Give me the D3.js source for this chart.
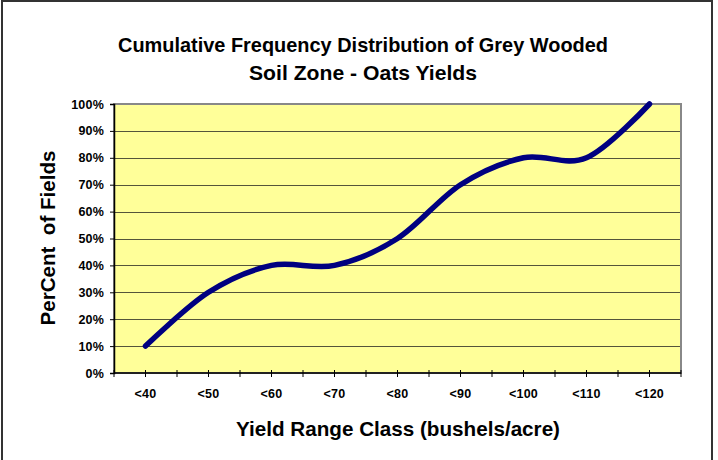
<!DOCTYPE html>
<html>
<head>
<meta charset="utf-8">
<script src="https://cdn.jsdelivr.net/npm/d3@7"></script>
<style>
  body { margin: 0; background: #fff; }
  svg { display: block; font-family: "Liberation Sans", Arial, sans-serif; }
</style>
</head>
<body>
<div id="chart"></div>
<script>
// yield classes and cumulative share of fields
var categories = ["<40", "<50", "<60", "<70", "<80", "<90", "<100", "<110", "<120"];
var cumulative = [0.10, 0.30, 0.40, 0.40, 0.50, 0.70, 0.80, 0.80, 1.00];
var yTicks = [0, 0.1, 0.2, 0.3, 0.4, 0.5, 0.6, 0.7, 0.8, 0.9, 1.0];

var svgWidth = 718, svgHeight = 460;
var margin = { top: 104, right: 37, bottom: 87, left: 114 };
var width = svgWidth - margin.left - margin.right;
var height = svgHeight - margin.top - margin.bottom;

var svg = d3.select("#chart").append("svg")
  .attr("width", svgWidth)
  .attr("height", svgHeight);

// outer chart frame
svg.append("rect")
  .attr("x", 2).attr("y", 1)
  .attr("width", 710).attr("height", 480)
  .attr("fill", "#fff")
  .attr("stroke", "#333")
  .attr("stroke-width", 2);

var chartGroup = svg.append("g")
  .attr("transform", `translate(${margin.left}, ${margin.top})`);

var x = d3.scaleBand().domain(categories).range([0, width]);
var y = d3.scaleLinear().domain([0, 1]).range([height, 0]);

chartGroup.append("rect")
  .attr("width", width).attr("height", height)
  .attr("fill", "#ffff99");

// gridlines
chartGroup.selectAll(".grid")
  .data(yTicks.slice(1))
  .enter().append("line")
  .attr("x1", 0).attr("x2", width)
  .attr("y1", d => Math.round(y(d)) + 0.5)
  .attr("y2", d => Math.round(y(d)) + 0.5)
  .attr("stroke", "#55553a")
  .attr("stroke-width", 1);

// plot border
chartGroup.append("rect")
  .attr("width", width).attr("height", height)
  .attr("fill", "none")
  .attr("stroke", "#888")
  .attr("stroke-width", 2);

// y axis
var leftAxis = d3.axisLeft(y).tickValues(yTicks)
  .tickFormat(d3.format(".0%")).tickSize(4).tickPadding(6);
var yAxisG = chartGroup.append("g").call(leftAxis);
yAxisG.select(".domain").attr("stroke", "#000").attr("stroke-width", 1.5);
yAxisG.selectAll("text")
  .attr("font-size", "12.5px").attr("font-weight", "bold")
  .attr("letter-spacing", "0.2px")
  .attr("font-family", "Liberation Sans, Arial, sans-serif");

// x axis: ticks at centers and band edges
var xAxisG = chartGroup.append("g")
  .attr("transform", `translate(0, ${height})`);
xAxisG.append("line")
  .attr("x1", 0).attr("x2", width)
  .attr("stroke", "#000").attr("stroke-width", 1.5);
var tickPos = [];
categories.forEach(function (c) {
  tickPos.push(x(c));
  tickPos.push(x(c) + x.bandwidth() / 2);
});
tickPos.push(width);
xAxisG.selectAll(".tk").data(tickPos).enter().append("line")
  .attr("x1", d => d).attr("x2", d => d)
  .attr("y1", -3).attr("y2", 4)
  .attr("stroke", "#000");
xAxisG.selectAll(".lbl").data(categories).enter().append("text")
  .attr("x", d => x(d) + x.bandwidth() / 2)
  .attr("y", 25)
  .attr("text-anchor", "middle")
  .attr("font-size", "12.5px")
  .attr("letter-spacing", "0.2px")
  .attr("font-weight", "bold")
  .text(d => d);

// smoothed line
var line = d3.line()
  .x((d, i) => x(categories[i]) + x.bandwidth() / 2)
  .y(d => y(d))
  .curve(d3.curveCardinal.tension(0));

chartGroup.append("path")
  .datum(cumulative)
  .attr("d", line)
  .attr("fill", "none")
  .attr("stroke", "#000080")
  .attr("stroke-width", 5.5)
  .attr("stroke-linecap", "round");

// titles
function bigText(x0, y0, str, len) {
  return svg.append("text")
    .attr("x", x0).attr("y", y0)
    .attr("text-anchor", "middle")
    .attr("font-size", "20.5px").attr("font-weight", "bold")
    .attr("textLength", len)
    .attr("lengthAdjust", "spacingAndGlyphs")
    .text(str);
}
bigText(363, 52, "Cumulative Frequency Distribution of Grey Wooded", 490);
bigText(363, 80, "Soil Zone - Oats Yields", 228);
bigText(398, 436, "Yield Range Class (bushels/acre)", 324);
bigText(0, 0, "PerCent  of Fields", 175)
  .attr("transform", "translate(55, 238) rotate(-90)")
  .style("white-space", "pre");
</script>
</body>
</html>
